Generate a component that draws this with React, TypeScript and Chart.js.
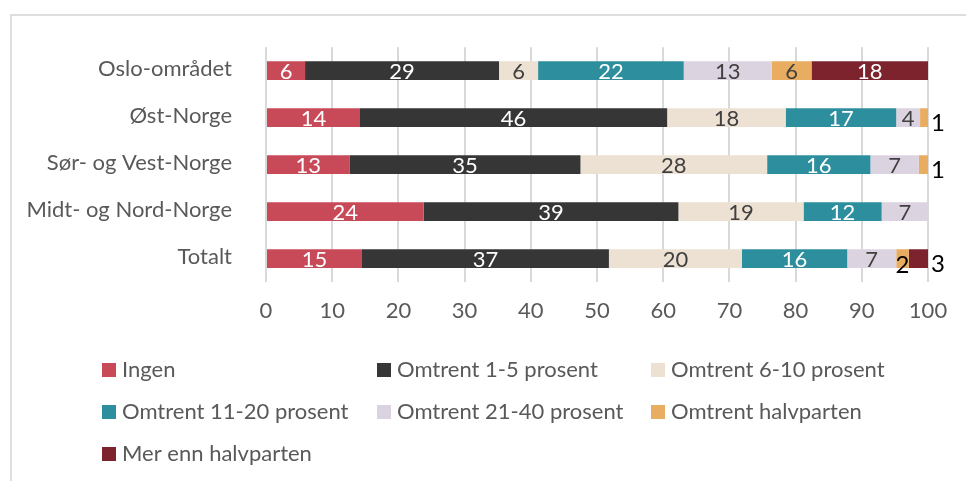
import React, { useEffect, useRef } from 'react';
import { Chart, registerables } from 'chart.js';

Chart.register(...registerables);

const categories = ['Oslo-området', 'Øst-Norge', 'Sør- og Vest-Norge', 'Midt- og Nord-Norge', 'Totalt'];
const seriesNames = [
  'Ingen',
  'Omtrent 1-5 prosent',
  'Omtrent 6-10 prosent',
  'Omtrent 11-20 prosent',
  'Omtrent 21-40 prosent',
  'Omtrent halvparten',
  'Mer enn halvparten',
];
const ingen = [5.9, 14.2, 12.6, 23.8, 14.5];
const omtrent1to5 = [29.3, 46.4, 34.9, 38.5, 37.3];
const omtrent6to10 = [5.9, 17.9, 28.2, 18.9, 20.1];
const omtrent11to20 = [22.0, 16.7, 15.6, 11.8, 15.9];
const omtrent21to40 = [13.3, 3.6, 7.3, 7.0, 7.4];
const omtrentHalvparten = [6.0, 1.2, 1.4, 0, 1.9];
const merEnnHalvparten = [17.6, 0, 0, 0, 2.9];
const xTickValues = [0, 10, 20, 30, 40, 50, 60, 70, 80, 90, 100];

const seriesValues = [ingen, omtrent1to5, omtrent6to10, omtrent11to20, omtrent21to40, omtrentHalvparten, merEnnHalvparten];
const colors = ['#c84a59', '#363636', '#ede1d3', '#2d8e9e', '#dcd3e0', '#e9ad62', '#7d232e'];
const labelColors = ['#ffffff', '#ffffff', '#404040', '#ffffff', '#404040', '#404040', '#ffffff'];

const FONT = 'Lato, "Liberation Sans", sans-serif';

const dataLabelPlugin = {
  id: 'dataLabels',
  afterDatasetsDraw(chart: any) {
    const ctx = chart.ctx;
    ctx.save();
    const n = categories.length;
    for (let i = 0; i < n; i++) {
      let last = -1;
      chart.data.datasets.forEach((ds: any, di: number) => {
        if (ds.data[i] > 0) last = di;
      });
      chart.data.datasets.forEach((ds: any, di: number) => {
        const v = ds.data[i];
        if (!v) return;
        const el = chart.getDatasetMeta(di).data[i];
        const txt = String(Math.round(v));
        const cx = (el.x + el.base) / 2;
        if (v < 3) {
          ctx.font = `24px ${FONT}`;
          ctx.fillStyle = '#000000';
          ctx.textBaseline = 'middle';
          if (di === last) {
            ctx.textAlign = 'left';
            ctx.fillText(txt, el.x + 3, el.y + 6);
          } else {
            ctx.textAlign = 'center';
            ctx.fillText(txt, cx, el.y + 7);
          }
        } else {
          ctx.font = `22px ${FONT}`;
          ctx.fillStyle = labelColors[di];
          ctx.textAlign = 'center';
          ctx.textBaseline = 'middle';
          ctx.fillText(txt, cx, el.y + 1);
        }
      });
    }
    ctx.restore();
  },
};

const legendPlugin = {
  id: 'customLegend',
  afterDraw(chart: any) {
    const ctx = chart.ctx;
    ctx.save();
    const colX = [102, 377, 651];
    const rowY = [370, 412, 454];
    ctx.font = `22px ${FONT}`;
    ctx.textAlign = 'left';
    ctx.textBaseline = 'middle';
    seriesNames.forEach((name, idx) => {
      const x = colX[idx % 3];
      const y = rowY[Math.floor(idx / 3)];
      ctx.fillStyle = colors[idx];
      ctx.fillRect(x, y - 7, 14, 14);
      ctx.fillStyle = '#595959';
      ctx.fillText(name, x + 20, y);
    });
    ctx.restore();
  },
};

export default function App() {
  const canvasRef = useRef<HTMLCanvasElement>(null);

  useEffect(() => {
    const canvas = canvasRef.current;
    if (!canvas) return;
    const chart = new Chart(canvas, {
      type: 'bar',
      data: {
        labels: categories,
        datasets: seriesNames.map((name, i) => ({
          label: name,
          data: seriesValues[i],
          backgroundColor: colors[i],
          borderWidth: 0,
          barPercentage: 0.4,
          categoryPercentage: 1,
        })),
      },
      options: {
        indexAxis: 'y',
        responsive: false,
        animation: false,
        maintainAspectRatio: false,
        layout: { padding: { top: 44, right: 38, bottom: 149, left: 0 } },
        plugins: {
          legend: { display: false },
          tooltip: { enabled: false },
          title: { display: false },
        },
        scales: {
          x: {
            stacked: true,
            min: 0,
            max: 100,
            afterBuildTicks: (scale: any) => {
              scale.ticks = xTickValues.map((v) => ({ value: v }));
            },
            afterFit: (scale: any) => {
              scale.height = 50;
            },
            grid: { color: '#d9d9d9', lineWidth: 2, drawTicks: false },
            border: { display: false },
            ticks: {
              color: '#595959',
              font: { family: FONT, size: 22 },
              padding: 16,
            },
          },
          y: {
            stacked: true,
            afterFit: (scale: any) => {
              scale.width = 266;
            },
            grid: { display: false, drawTicks: false },
            border: { display: false },
            ticks: {
              color: '#595959',
              font: { family: FONT, size: 22 },
              padding: 34,
              labelOffset: -2,
            },
          },
        },
      },
      plugins: [dataLabelPlugin, legendPlugin],
    });
    return () => chart.destroy();
  }, []);

  return (
    <div style={{ position: 'fixed', left: 0, top: 0, width: 966, height: 481, background: '#ffffff', overflow: 'hidden' }}>
      <div
        style={{
          position: 'absolute',
          left: 10,
          top: 14,
          width: 980,
          height: 500,
          border: '2px solid #dedede',
          boxSizing: 'border-box',
        }}
      />
      <canvas ref={canvasRef} width={966} height={481} style={{ position: 'absolute', left: 0, top: 0, width: 966, height: 481 }} />
    </div>
  );
}
